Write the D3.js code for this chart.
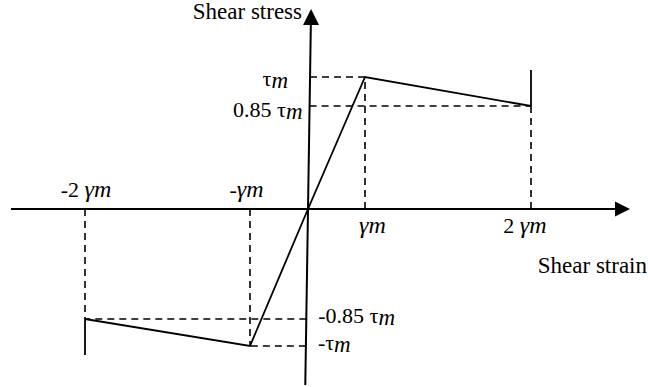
<!DOCTYPE html>
<html>
<head>
<meta charset="utf-8">
<script src="https://cdn.jsdelivr.net/npm/d3@7"></script>
<style>html,body{margin:0;background:#fff}</style>
</head>
<body>
<script>
// Backbone curve: strain in multiples of γm, stress in multiples of τm
const strain = [-2, -1, 0, 1, 2];
const stress = [-0.85, -1, 0, 1, 0.85];

// Axis ticks and their labels (prefix, symbol; subscript m is added when drawn)
const strainTicks = [-2, -1, 1, 2];
const strainTickLabels = [["-2 ", "γ"], ["-", "γ"], ["", "γ"], ["2 ", "γ"]];
const stressTicks = [1, 0.85, -0.85, -1];
const stressTickLabels = ["τ", "0.85 τ", "-0.85 τ", "-τ"];
const axisTitles = ["Shear stress", "Shear strain"];

const W = 648, H = 387;
const SERIF = "Liberation Serif";
const svg = d3.select("body").append("svg").attr("width", W).attr("height", H)
  .style("font-family", `"${SERIF}"`);

// Schematic (not to scale) piecewise-linear scales
const x = d3.scaleLinear().domain([-2, -1, 0, 1, 2]).range([85, 250, 308, 365, 531]);
const y = d3.scaleLinear().domain([-1, -0.85, 0, 0.85, 1]).range([346, 319, 209, 106, 77]);

const x0 = x(0), y0 = y(0);
const tilt = 5.8 / 376;                       // the stress axis leans slightly right
const axisX = py => x0 + (y0 - py) * tilt;

// --- axes ---
const axisG = svg.append("g").attr("stroke", "#000").attr("stroke-width", 2);
// strain axis
axisG.append("line").attr("x1", 11).attr("y1", y0).attr("x2", 617).attr("y2", y0);
svg.append("path").attr("d", `M630,${y0} L615,${y0 - 7.5} L615,${y0 + 7.5} Z`).attr("fill", "#000");
// stress axis
axisG.append("line").attr("x1", axisX(24)).attr("y1", 24).attr("x2", axisX(385)).attr("y2", 385);
const tipX = axisX(9);
svg.append("path").attr("d", `M${tipX},9 L${tipX - 8},25 L${tipX + 8},25 Z`).attr("fill", "#000");

// --- dashed guide lines ---
const dashG = svg.append("g").attr("stroke", "#000").attr("stroke-width", 1.6)
  .attr("stroke-dasharray", "7,5").attr("fill", "none");
strain.forEach((s, i) => {
  if (s === 0) return;
  const px = x(s), py = y(stress[i]);
  dashG.append("line").attr("x1", px).attr("y1", y0).attr("x2", px).attr("y2", py);
  dashG.append("line").attr("x1", axisX(py)).attr("y1", py).attr("x2", px).attr("y2", py);
});

// --- backbone curve ---
const pts = strain.map((s, i) => [x(s), y(stress[i])]);
svg.append("path").attr("d", d3.line()(pts))
  .attr("fill", "none").attr("stroke", "#000").attr("stroke-width", 1.8).attr("stroke-linejoin", "miter");
// vertical drops at the ultimate strain on each side
const dropLen = 36;
[[pts[0], 1], [pts[pts.length - 1], -1]].forEach(([p, dir]) => {
  svg.append("line").attr("x1", p[0]).attr("y1", p[1]).attr("x2", p[0]).attr("y2", p[1] + dir * dropLen)
    .attr("stroke", "#000").attr("stroke-width", 1.8);
});

// Text helper: one family name, set as an inline style
const label = (fsz) => svg.append("text").style("font-family", `"${SERIF}"`).attr("font-size", fsz);

// --- strain tick labels ---
const fs = 22;
strainTicks.forEach((t, i) => {
  const [pre, sym] = strainTickLabels[i];
  const above = t < 0;
  const shift = { "-2": 1, "-1": -3.5, "1": 7.5, "2": -6 }[t];
  const txt = label(fs).attr("x", x(t) + shift).attr("y", above ? y0 - 12 : y0 + 24)
    .attr("text-anchor", "middle");
  txt.append("tspan").text(pre);
  txt.append("tspan").style("font-style", "italic").attr("font-size", 24).text(sym);
  txt.append("tspan").style("font-style", "italic").attr("font-size", 24).text("m");
});

// --- stress tick labels ---
stressTicks.forEach((t, i) => {
  const py = y(t);
  const pos = t > 0;
  const txt = label(fs)
    .attr("text-anchor", pos ? "end" : "start")
    .attr("x", pos ? axisX(py) - (t === 1 ? 22 : 7) : axisX(py) + 12)
    .attr("y", pos ? py + (t === 1 ? 9 : 11) : py + 3.5);
  txt.append("tspan").text(stressTickLabels[i]);
  txt.append("tspan").style("font-style", "italic").attr("font-size", 23).attr("dy", 2).text("m");
});

// --- axis titles ---
label(23).attr("x", 302).attr("y", 19).attr("text-anchor", "end").text(axisTitles[0]);
label(23).attr("x", 647).attr("y", 273).attr("text-anchor", "end").text(axisTitles[1]);
</script>
</body>
</html>
